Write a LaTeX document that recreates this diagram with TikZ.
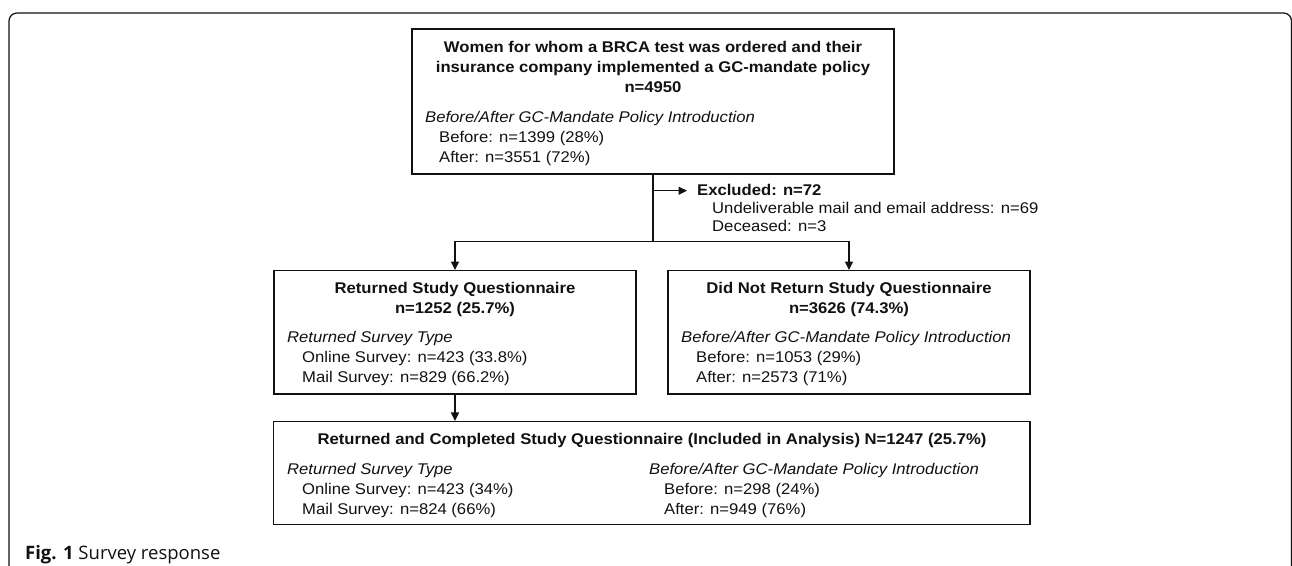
\documentclass[tikz,border=0pt]{standalone}
\usepackage{fontspec}
\setmainfont{Liberation Sans}[FakeStretch=1.075]
\newfontfamily\capfont{Open Sans}
\usetikzlibrary{arrows.meta}
\definecolor{ink}{HTML}{111111}
\begin{document}
\begin{tikzpicture}[x=1pt,y=-1pt,
  every node/.style={text=ink},
  boxnode/.style n args={2}{draw=ink, line width=1.25pt, rectangle, inner sep=0pt,
     minimum width=#1, minimum height=#2},
  txt/.style={anchor=base west, inner sep=0pt, font=\fontsize{15.5}{18}\selectfont},
  ttl/.style={anchor=base, inner sep=0pt, font=\fontsize{15.5}{18}\selectfont\bfseries},
  itx/.style={txt, font=\fontsize{15.5}{18}\selectfont\itshape},
  conn/.style={draw=ink, line width=1.25pt},
  arr/.style={conn, -{Triangle[length=8.5pt,width=8pt]}}]
\useasboundingbox (0,0) rectangle (1292,565);
% outer frame
\draw[draw=ink, line width=1.25pt, rounded corners=8pt] (9,570) -- (9,13) -- (1291.5,13) -- (1291.5,570);

% boxes
\node[boxnode={482pt}{145pt}] (top) at (653,101.5) {};
\node[boxnode={362pt}{123.3pt}] (left) at (455,332.3) {};
\node[boxnode={362pt}{123.3pt}] (right) at (849,332.3) {};
\node[boxnode={756.5pt}{103pt}] (bottom) at (651.7,473.1) {};

% top box text
\node[ttl] (t1) at (653,52.7) {Women for whom a BRCA test was ordered and their};
\node[ttl] (t2) at (653,72.7) {insurance company implemented a GC-mandate policy};
\node[ttl] (t3) at (653,92.7) {n=4950};
\node[itx] (t4) at (425,122.3) {Before/After GC-Mandate Policy Introduction};
\node[txt] (t5) at (439,142.3) {Before: n=1399 (28\%)};
\node[txt] (t6) at (439,162.3) {After: n=3551 (72\%)};

% excluded
\node[txt, font=\fontsize{15.5}{18}\selectfont\bfseries] (exc) at (697,195.7) {Excluded: n=72};
\node[txt] (exc1) at (712,213.3) {Undeliverable mail and email address: n=69};
\node[txt] (exc2) at (712,231) {Deceased: n=3};
\coordinate (exctip) at (687,190.7);
\coordinate (split) at (653,241.7);

% left box text
\node[ttl] (l1) at (455,293.3) {Returned Study Questionnaire};
\node[ttl] (l2) at (455,313.3) {n=1252 (25.7\%)};
\node[itx] (l3) at (287,342.7) {Returned Survey Type};
\node[txt] (l4) at (302,362.7) {Online Survey: n=423 (33.8\%)};
\node[txt] (l5) at (302,382.7) {Mail Survey: n=829 (66.2\%)};

% right box text
\node[ttl] (r1) at (849,293.3) {Did Not Return Study Questionnaire};
\node[ttl] (r2) at (849,313.3) {n=3626 (74.3\%)};
\node[itx] (r3) at (681,342.7) {Before/After GC-Mandate Policy Introduction};
\node[txt] (r4) at (696,362.7) {Before: n=1053 (29\%)};
\node[txt] (r5) at (696,382.7) {After: n=2573 (71\%)};

% bottom box text
\node[ttl] (b1) at (652,444) {Returned and Completed Study Questionnaire (Included in Analysis) N=1247 (25.7\%)};
\node[itx] (b2) at (287,474) {Returned Survey Type};
\node[txt] (b3) at (302,494.3) {Online Survey: n=423 (34\%)};
\node[txt] (b4) at (302,514) {Mail Survey: n=824 (66\%)};
\node[itx] (b5) at (649,474) {Before/After GC-Mandate Policy Introduction};
\node[txt] (b6) at (664,494.3) {Before: n=298 (24\%)};
\node[txt] (b7) at (664,514) {After: n=949 (76\%)};

% connectors
\draw[conn] (top.south) -- (split);
\draw[arr] (top.south |- exctip) -- (exctip);
\draw[arr] (split) -| (left.north);
\draw[arr] (split) -| (right.north);
\draw[arr] (left.south) -- (left.south |- bottom.north);

% caption
\node[anchor=base west, inner sep=0pt, text=ink] (cap) at (25,559.3)
  {\capfont\fontsize{18.5}{21}\selectfont\textbf{Fig. 1} Survey response};
\end{tikzpicture}
\end{document}
